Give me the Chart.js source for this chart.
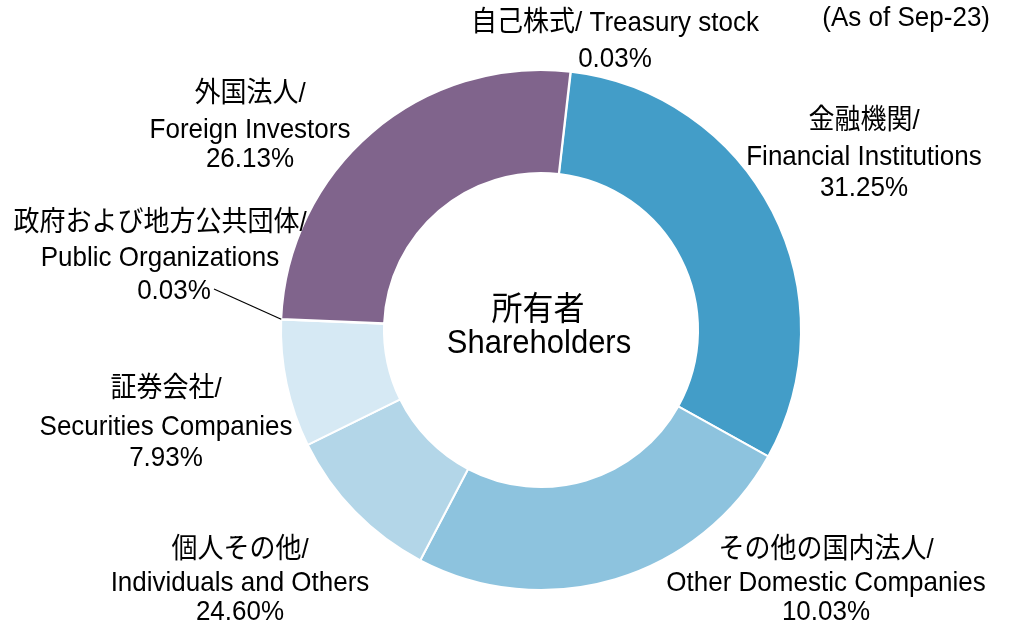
<!DOCTYPE html>
<html>
<head>
<meta charset="utf-8">
<script src="https://cdn.jsdelivr.net/npm/chart.js@4/dist/chart.umd.min.js"></script>
<style>
  html, body { margin: 0; padding: 0; background: #fff; }
  canvas { display: block; }
</style>
</head>
<body>
<canvas id="shareChart" width="1012" height="623"></canvas>
<script>
// slices in drawing order (clockwise from the top)
const categories = ['Treasury stock', 'Financial Institutions', 'Individuals and Others',
  'Other Domestic Companies', 'Securities Companies', 'Public Organizations', 'Foreign Investors'];
const shares = [0.03, 31.25, 24.60, 10.03, 7.93, 0.03, 26.13];
const sliceColors = ['#c9d3de', '#439dc8', '#8dc3de', '#b3d6e8', '#d6e9f4', '#ddd3e4', '#80648c'];

// label texts: [japanese, english, percent]
const labelTexts = [
  ['自己株式/ Treasury stock', null, '0.03%'],
  ['金融機関/', 'Financial Institutions', '31.25%'],
  ['個人その他/', 'Individuals and Others', '24.60%'],
  ['その他の国内法人/', 'Other Domestic Companies', '10.03%'],
  ['証券会社/', 'Securities Companies', '7.93%'],
  ['政府および地方公共団体/', 'Public Organizations', '0.03%'],
  ['外国法人/', 'Foreign Investors', '26.13%']
];
const centerTitle = ['所有者', 'Shareholders'];
const asOfNote = '(As of Sep-23)';

// where each label block sits: x centre, baselines of line 1/2/3
const labelPlace = [
  { x: 615, y: [31, null, 67] },
  { x: 864, y: [129, 165, 196] },
  { x: 240, y: [558, 591, 620] },
  { x: 826, y: [558, 591, 620] },
  { x: 166, y: [397, 435, 466] },
  { x: 160, y: [231, 266, 299], px: 174 },
  { x: 250, y: [102, 138, 167] }
];

const LATIN = '"Liberation Sans", Arial, sans-serif';
const JP = '"Liberation Sans", "Noto Sans CJK JP", sans-serif';
const STRETCH = 1.08; // reference glyphs are a little taller than Arial

function tallText(ctx, text, x, y) {
  ctx.save();
  ctx.translate(x, y);
  ctx.scale(1, STRETCH);
  ctx.fillText(text, 0, 0);
  ctx.restore();
}

const labelPlugin = {
  id: 'labels',
  afterDraw(chart) {
    const ctx = chart.ctx;
    const arcs = chart.getDatasetMeta(0).data;
    const cx = arcs[0].x, cy = arcs[0].y;
    ctx.save();
    ctx.fillStyle = '#000';
    ctx.textAlign = 'center';
    ctx.textBaseline = 'alphabetic';

    labelTexts.forEach((t, i) => {
      const p = labelPlace[i];
      ctx.font = '26px ' + JP;
      tallText(ctx, t[0], p.x, p.y[0]);
      ctx.font = '26px ' + LATIN;
      if (t[1]) tallText(ctx, t[1], p.x, p.y[1]);
      tallText(ctx, t[2], p.px || p.x, p.y[2]);
    });

    // leader line for the tiny public organizations slice
    const pub = arcs[5];
    const mid = (pub.startAngle + pub.endAngle) / 2;
    ctx.strokeStyle = '#000';
    ctx.lineWidth = 1.2;
    ctx.beginPath();
    ctx.moveTo(214, 289);
    ctx.lineTo(cx + Math.cos(mid) * pub.outerRadius, cy + Math.sin(mid) * pub.outerRadius);
    ctx.stroke();

    // centre title
    ctx.font = '31px ' + JP;
    tallText(ctx, centerTitle[0], cx - 3, cy - 10);
    ctx.font = '31px ' + LATIN;
    tallText(ctx, centerTitle[1], cx - 2, cy + 23);

    ctx.textAlign = 'right';
    ctx.font = '26px ' + LATIN;
    tallText(ctx, asOfNote, 990, 26);
    ctx.restore();
  }
};

new Chart(document.getElementById('shareChart'), {
  type: 'doughnut',
  data: {
    labels: categories,
    datasets: [{
      data: shares,
      backgroundColor: sliceColors,
      borderColor: '#ffffff',
      borderWidth: 2
    }]
  },
  options: {
    responsive: false,
    animation: false,
    rotation: 6.5,
    radius: 260,
    cutout: '60.4%',
    layout: { padding: { left: 70, right: 0, top: 37, bottom: 0 } },
    plugins: {
      legend: { display: false },
      tooltip: { enabled: false }
    }
  },
  plugins: [labelPlugin]
});
</script>
</body>
</html>
